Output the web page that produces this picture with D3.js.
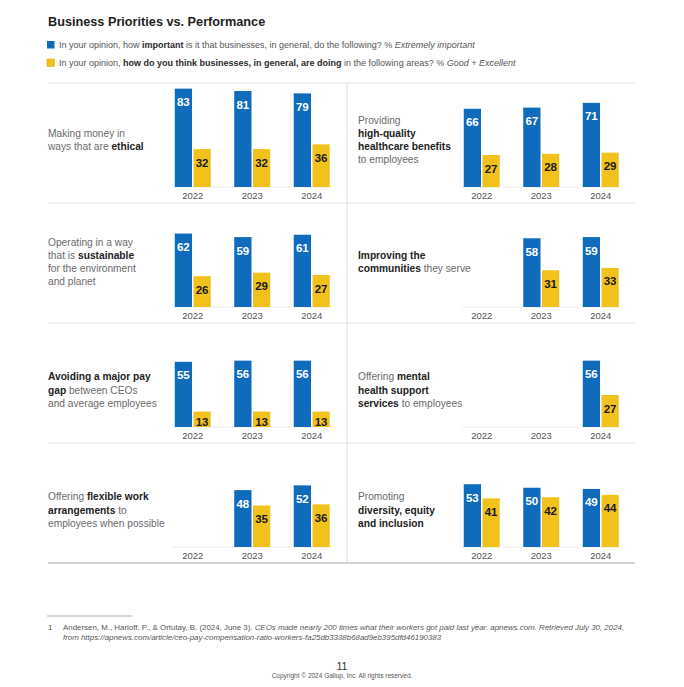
<!DOCTYPE html>
<html>
<head>
<meta charset="utf-8">
<script src="https://cdn.jsdelivr.net/npm/d3@7"></script>
<style>
  body { margin: 0; background: #fff; }
  svg { font-family: "Liberation Sans", Arial, sans-serif; }
</style>
</head>
<body>
<div id="plot"></div>
<script>
// data
var years = ["2022", "2023", "2024"];
var series = ["important", "doing"];
// panels in reading order: row by row, left then right
var importance = [
  [83, 81, 79], [66, 67, 71],
  [62, 59, 61], [null, 58, 59],
  [55, 56, 56], [null, null, 56],
  [null, 48, 52], [53, 50, 49]
];
var performance = [
  [32, 32, 36], [27, 28, 29],
  [26, 29, 27], [null, 31, 33],
  [13, 13, 13], [null, null, 27],
  [null, 35, 36], [41, 42, 44]
];
// label lines, each a list of [text, bold]
var labels = [
  [[["Making money in", 0]], [["ways that are ", 0], ["ethical", 1]]],
  [[["Providing", 0]], [["high-quality", 1]], [["healthcare benefits", 1]], [["to employees", 0]]],
  [[["Operating in a way", 0]], [["that is ", 0], ["sustainable", 1]], [["for the environment", 0]], [["and planet", 0]]],
  [[["Improving the", 1]], [["communities", 1], [" they serve", 0]]],
  [[["Avoiding a major pay", 1]], [["gap", 1], [" between CEOs", 0]], [["and average employees", 0]]],
  [[["Offering ", 0], ["mental", 1]], [["health support", 1]], [["services", 1], [" to employees", 0]]],
  [[["Offering ", 0], ["flexible work", 1]], [["arrangements", 1], [" to", 0]], [["employees when possible", 0]]],
  [[["Promoting", 0]], [["diversity, equity", 1]], [["and inclusion", 1]]]
];

var colors = { important: "#0f6bbb", doing: "#f1c21c" };

var W = 684, H = 687;
var svg = d3.select("#plot").append("svg")
  .attr("width", W).attr("height", H);

// title + legend
svg.append("text").attr("x", 48).attr("y", 26)
  .attr("font-size", 12.7).attr("font-weight", "bold").attr("fill", "#1e1e1e")
  .text("Business Priorities vs. Performance");

var legend = [
  [["In your opinion, how ", 0], ["important", 1], [" is it that businesses, in general, do the following? % ", 0], ["Extremely important", 2]],
  [["In your opinion, ", 0], ["how do you think businesses, in general, are doing", 1], [" in the following areas? % ", 0], ["Good + Excellent", 2]]
];
legend.forEach(function (parts, i) {
  var y = 45 + i * 18;
  svg.append("rect").attr("x", 47).attr("y", y - 4).attr("width", 7.5).attr("height", 7.5)
    .attr("fill", colors[series[i]]).attr("stroke", i ? "#c9a000" : "none").attr("stroke-width", 0.5);
  var t = svg.append("text").attr("x", 59).attr("y", y + 3).attr("font-size", 9).attr("fill", "#555");
  parts.forEach(function (p) {
    t.append("tspan").text(p[0])
      .attr("font-weight", p[1] === 1 ? "bold" : null)
      .attr("font-style", p[1] === 2 ? "italic" : null)
      .attr("fill", p[1] === 1 ? "#2a2a2a" : null);
  });
});

// grid
var top0 = 83, rowH = 120, divX = 347;
var textX = [48, 358];
var blockOffset = [57, 59, 67, 67];

for (var r = 0; r <= 4; r++) {
  svg.append("line").attr("x1", 48).attr("x2", 635)
    .attr("y1", top0 + r * rowH).attr("y2", top0 + r * rowH)
    .attr("stroke", r === 4 ? "#a8a8a8" : "#e2e2e2").attr("stroke-width", r === 4 ? 1.2 : 1);
}
svg.append("line").attr("x1", divX).attr("x2", divX)
  .attr("y1", top0).attr("y2", top0 + 4 * rowH)
  .attr("stroke", "#dcdcdc");

var y = d3.scaleLinear().domain([0, 100]).range([0, 118.5]);
var x1 = d3.scaleBand().domain(series).range([-18, 18]).paddingInner(0.08);

importance.forEach(function (imp, i) {
  var col = i % 2, row = Math.floor(i / 2);
  var rowTop = top0 + row * rowH;
  var base = rowTop + 104;
  var x0 = d3.scaleBand().domain(years).range([163 + col * 289, 163 + col * 289 + 178.5]);
  var cx = function (yr) { return x0(yr) + x0.bandwidth() / 2; };
  var g = svg.append("g");

  // baseline
  g.append("line").attr("x1", cx(years[0]) - 20).attr("x2", cx(years[2]) + 20)
    .attr("y1", base).attr("y2", base).attr("stroke", "#ececec");

  var rows = [];
  years.forEach(function (yr, j) {
    rows.push({ year: yr, key: "important", v: imp[j] });
    rows.push({ year: yr, key: "doing", v: performance[i][j] });
  });
  var bars = rows.filter(function (d) { return d.v != null; });

  g.selectAll("rect.bar").data(bars).join("rect")
    .attr("class", "bar")
    .attr("x", function (d) { return cx(d.year) + x1(d.key); })
    .attr("y", function (d) { return base - y(d.v); })
    .attr("width", x1.bandwidth())
    .attr("height", function (d) { return y(d.v); })
    .attr("fill", function (d) { return colors[d.key]; });

  g.selectAll("text.val").data(bars).join("text")
    .attr("class", "val")
    .attr("x", function (d) { return cx(d.year) + x1(d.key) + x1.bandwidth() / 2; })
    .attr("y", function (d) { return Math.min(base - y(d.v) + 17.5, base - 1.5); })
    .attr("text-anchor", "middle")
    .attr("font-size", 11.5).attr("font-weight", "bold")
    .attr("fill", function (d) { return d.key === "important" ? "#fff" : "#1a1a1a"; })
    .text(function (d) { return d.v; });

  g.selectAll("text.yr").data(years).join("text")
    .attr("class", "yr")
    .attr("x", function (d) { return cx(d); })
    .attr("y", base + 11.5)
    .attr("text-anchor", "middle")
    .attr("font-size", 9.5).attr("fill", "#555")
    .text(function (d) { return d; });

  // topic label
  var lines = labels[i];
  var lh = 13.3;
  var firstY = rowTop + blockOffset[row] - (lines.length - 1) * lh / 2 + 3.5;
  lines.forEach(function (parts, k) {
    var t = g.append("text").attr("x", textX[col]).attr("y", firstY + k * lh)
      .attr("font-size", 10.2).attr("fill", "#6a6a6a");
    parts.forEach(function (p) {
      t.append("tspan").text(p[0])
        .attr("font-weight", p[1] ? "bold" : null)
        .attr("fill", p[1] ? "#222" : null);
    });
  });
});

// footnote
svg.append("line").attr("x1", 47).attr("x2", 132).attr("y1", 616).attr("y2", 616)
  .attr("stroke", "#999").attr("stroke-width", 0.8);
svg.append("text").attr("x", 48).attr("y", 630).attr("font-size", 7.9).attr("fill", "#555").text("1");
var f1 = svg.append("text").attr("x", 63).attr("y", 630).attr("font-size", 7.9).attr("fill", "#555");
f1.append("tspan").text("Andersen, M., Harloff, P., & Ortutay, B. (2024, June 3). ");
f1.append("tspan").attr("font-style", "italic")
  .text("CEOs made nearly 200 times what their workers got paid last year. apnews.com. Retrieved July 30, 2024,");
svg.append("text").attr("x", 63).attr("y", 640).attr("font-size", 7.9).attr("fill", "#555")
  .attr("font-style", "italic")
  .text("from https://apnews.com/article/ceo-pay-compensation-ratio-workers-fa25db3338b68ad9eb395dfd46190383");

svg.append("text").attr("x", 342).attr("y", 670).attr("text-anchor", "middle")
  .attr("font-size", 10.5).attr("fill", "#333").text("11");
svg.append("text").attr("x", 342).attr("y", 678).attr("text-anchor", "middle")
  .attr("font-size", 6.5).attr("fill", "#555").text("Copyright \u00a9 2024 Gallup, Inc. All rights reserved.");
</script>
</body>
</html>
